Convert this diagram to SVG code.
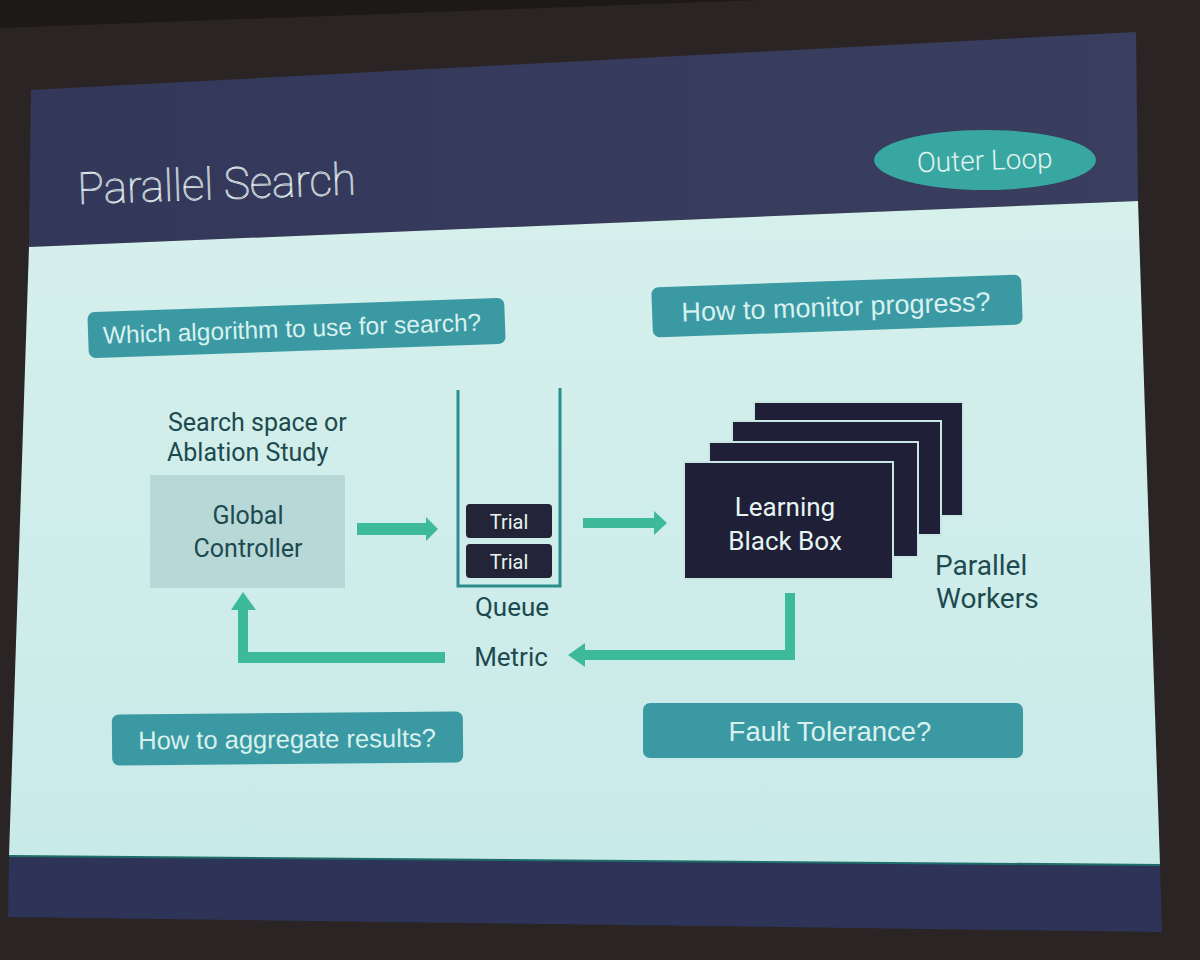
<svg xmlns="http://www.w3.org/2000/svg" width="1200" height="960" viewBox="0 0 1200 960">
<defs>
<style>
.dk{font-family:Roboto,"Liberation Sans",sans-serif;fill:#1d4a4e;font-size:25px}
.wt{font-family:Roboto,"Liberation Sans",sans-serif;fill:#e6f4f2}
.call{fill:#3a99a3}
.calltxt{font-family:"Liberation Sans",Arial,sans-serif;fill:#d9f1ee;font-size:24px;text-anchor:middle}
.bar{fill:#3cba9b}
.bb{fill:#1f2038;stroke:#c9e6e4;stroke-width:2}
</style>
<linearGradient id="lg" x1="0" y1="0" x2="0" y2="1">
<stop offset="0" stop-color="#d6f0ec"/>
<stop offset="1" stop-color="#c8eae9"/>
</linearGradient>
<linearGradient id="hg" x1="0" y1="0" x2="1" y2="0">
<stop offset="0" stop-color="#33375a"/>
<stop offset="1" stop-color="#3a3e5e"/>
</linearGradient>
</defs>
<rect x="0" y="0" width="1200" height="960" fill="#2a2524"/>
<polygon points="0,0 760,0 0,28" fill="#1d1918"/>
<g id="slide">
<polygon points="31,90 1136,32 1138,201 29,247" fill="url(#hg)"/>
<polygon points="29,247 1138,201 1160,865 9,856" fill="url(#lg)"/>
<polygon points="9,856 1160,865 1162,932 8,917" fill="#2d3457"/>
<line x1="9" y1="856" x2="1160" y2="865" stroke="#1f6e6a" stroke-width="2"/>
</g>
<g id="title">
<text x="78" y="204" transform="rotate(-2 78 204)" class="wt" style="font-size:44px;font-weight:100;fill:none;stroke:#e3f2f0;stroke-width:0.8">Parallel Search</text>
</g>
<g id="outer-loop">
<ellipse cx="985" cy="160" rx="111" ry="30" fill="#39a7a1"/>
<text x="985" y="170" transform="rotate(-2 985 170)" class="wt" style="font-size:28px;font-weight:300;text-anchor:middle;fill:#e3f3f0">Outer Loop</text>
</g>
<g id="q-algorithm" transform="rotate(-2 296 328)">
<rect x="88" y="305" width="417" height="46" rx="7" class="call"/>
<text x="292" y="337" class="calltxt" style="font-size:24.5px">Which algorithm to use for search?</text>
</g>
<g id="q-monitor" transform="rotate(-2 837 306)">
<rect x="652" y="281" width="370" height="50" rx="7" class="call"/>
<text x="836" y="316" class="calltxt" style="font-size:27px">How to monitor progress?</text>
</g>
<g id="q-aggregate" transform="rotate(-0.5 287 738)">
<rect x="112" y="713" width="351" height="51" rx="7" class="call"/>
<text x="287" y="748" class="calltxt" style="font-size:25.5px">How to aggregate results?</text>
</g>
<g id="q-fault">
<rect x="643" y="703" width="380" height="55" rx="7" class="call"/>
<text x="830" y="741" class="calltxt" style="font-size:27.5px">Fault Tolerance?</text>
</g>
<g id="search-space">
<text x="168" y="431" class="dk">Search space or</text>
<text x="167" y="461" class="dk">Ablation Study</text>
</g>
<g id="global-controller">
<rect x="150" y="475" width="195" height="113" fill="#b8d8d8"/>
<text x="248" y="524" class="dk" style="text-anchor:middle">Global</text>
<text x="248" y="557" class="dk" style="text-anchor:middle">Controller</text>
</g>
<g id="queue">
<polyline points="458,390 458,586 560,586 560,388" fill="none" stroke="#2a8d8e" stroke-width="3"/>
<rect x="466" y="504" width="86" height="34" rx="4" fill="#232437"/>
<text x="509" y="529" class="wt" style="font-size:20px;text-anchor:middle">Trial</text>
<rect x="466" y="544" width="86" height="34" rx="4" fill="#232437"/>
<text x="509" y="569" class="wt" style="font-size:20px;text-anchor:middle">Trial</text>
<text x="512" y="616" class="dk" style="text-anchor:middle;font-size:26px">Queue</text>
</g>
<g id="metric">
<text x="511" y="666" class="dk" style="text-anchor:middle;font-size:26px">Metric</text>
</g>
<g id="workers">
<rect x="754" y="402" width="209" height="114" class="bb"/>
<rect x="732" y="421" width="209" height="114" class="bb"/>
<rect x="709" y="442" width="209" height="115" class="bb"/>
<rect x="684" y="462" width="209" height="117" class="bb"/>
<text x="785" y="516" class="wt" style="font-size:26px;text-anchor:middle">Learning</text>
<text x="785" y="550" class="wt" style="font-size:26px;text-anchor:middle">Black Box</text>
<text x="935" y="575" class="dk" style="font-size:28px">Parallel</text>
<text x="936" y="608" class="dk" style="font-size:28px">Workers</text>
</g>
<g id="connectors">
<polygon class="bar" points="357,523 426,523 426,517 438,529 426,541 426,535 357,535"/>
<polygon class="bar" points="583,518 654,518 654,511 667,523 654,535 654,528 583,528"/>
<polygon class="bar" points="785,593 795,593 795,660 585,660 585,667 568,655 585,643 585,650 785,650"/>
<polygon class="bar" points="445,652 445,663 238,663 238,610 231,610 243,592 256,610 248,610 248,652"/>
</g>
</svg>
